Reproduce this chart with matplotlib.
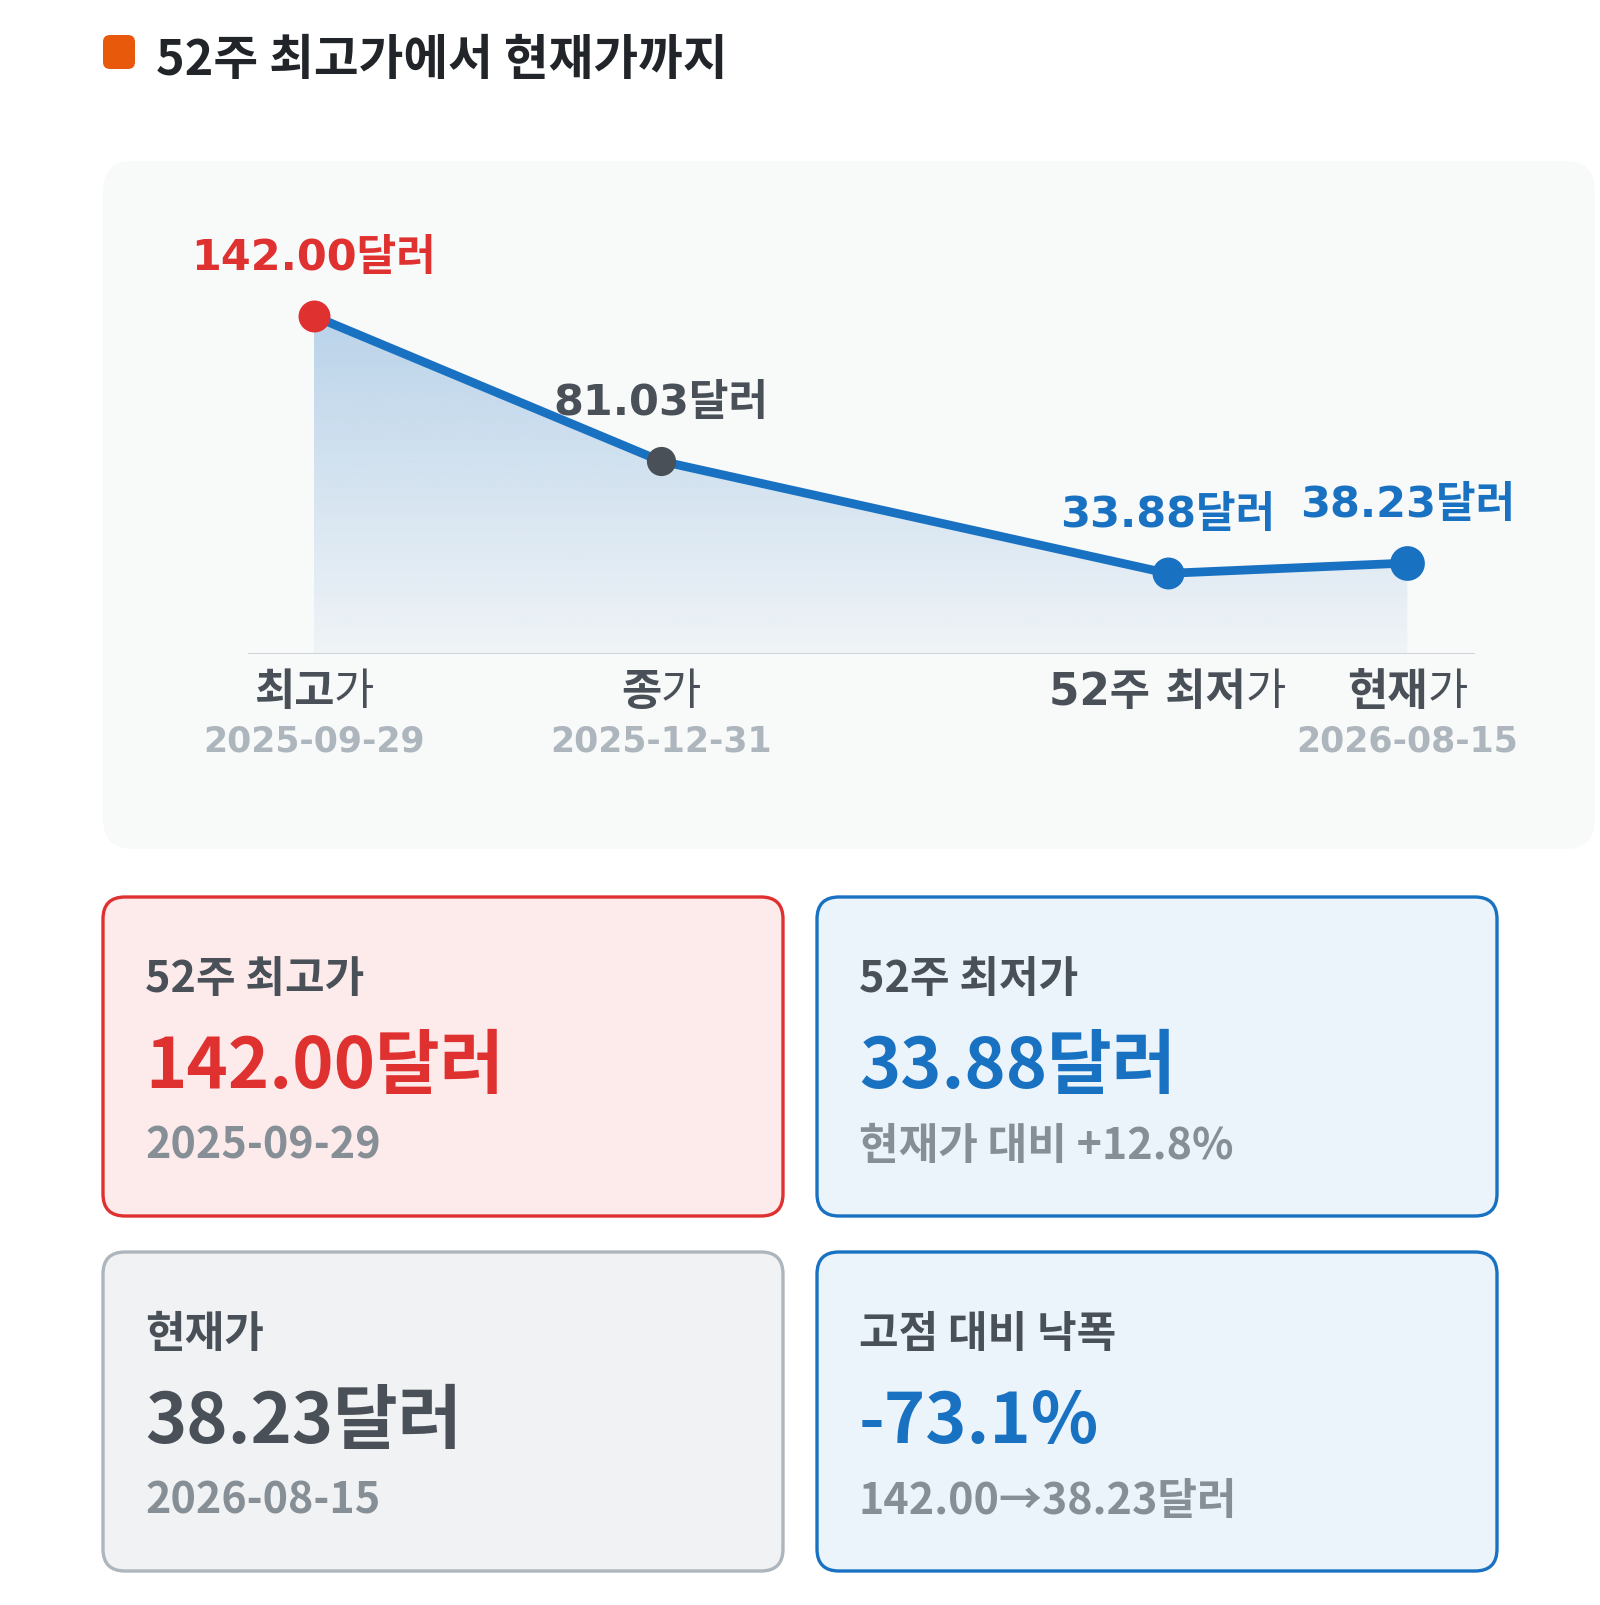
import matplotlib
matplotlib.use("Agg")
import matplotlib.pyplot as plt
import numpy as np
from matplotlib.patches import FancyBboxPatch

plt.rcParams["font.family"] = ["Noto Sans CJK KR", "DejaVu Sans"]

# --- data ---
point_names = ["최고가", "종가", "52주 최저가", "현재가"]
point_dates = ["2025-09-29", "2025-12-31", "", "2026-08-15"]
point_prices = [142.00, 81.03, 33.88, 38.23]
point_slots = [0.0, 1.0, 2.46, 3.15]

high_price, close_price, low_price, cur_price = point_prices
high_date, cur_date = point_dates[0], point_dates[3]

title = "52주 최고가에서 현재가까지"
card_titles = ["52주 최고가", "52주 최저가", "현재가", "고점 대비 낙폭"]
card_values = [
    f"{high_price:.2f}달러",
    f"{low_price:.2f}달러",
    f"{cur_price:.2f}달러",
    f"{(cur_price / high_price - 1) * 100:.1f}%",
]
card_subs = [
    high_date,
    f"현재가 대비 {(cur_price / low_price - 1) * 100:+.1f}%",
    cur_date,
    f"{high_price:.2f}→{cur_price:.2f}달러",
]

# --- styles ---
RED = "#e03131"
BLUE = "#1971c2"
DARK = "#495057"
MUTED = "#868e96"
LIGHT = "#adb5bd"
point_colors = [RED, DARK, BLUE, BLUE]
point_sizes = [23, 21, 23, 25]
card_styles = [
    (RED, "#fdebec", RED),
    (BLUE, "#ebf3fb", BLUE),
    (LIGHT, "#f0f2f4", DARK),
    (BLUE, "#ebf3fb", BLUE),
]
LATIN = ["DejaVu Sans", "Noto Sans CJK KR"]

W, H = 1600, 1606
fig = plt.figure(figsize=(W / 100, H / 100), dpi=100)
fig.patch.set_facecolor("white")

# background canvas in pixel coordinates
bg = fig.add_axes([0, 0, 1, 1])
bg.set_xlim(0, W)
bg.set_ylim(H, 0)
bg.axis("off")

# title
bg.add_patch(FancyBboxPatch((103, 36), 32, 34, boxstyle="round,pad=0,rounding_size=7",
                            fc="#e8590c", ec="none"))
bg.text(156, 75, title, fontsize=35, fontweight="black", color="#212529", va="baseline")

# chart panel
bg.add_patch(FancyBboxPatch((103, 162), 1492, 688, boxstyle="round,pad=0,rounding_size=30",
                            fc="#f8f9f9", ec="none"))

# chart axes
ax_left, ax_right, ax_top, ax_bottom = 248, 1475, 160, 655
ax = fig.add_axes([ax_left / W, 1 - ax_bottom / H, (ax_right - ax_left) / W,
                   (ax_bottom - ax_top) / H])
ax.patch.set_alpha(0)
ax.set_xlim(point_slots[0] - 0.19, point_slots[-1] + 0.195)
ax.set_ylim(0, 208)
ax.axis("off")

x = np.array(point_slots)
y = np.array(point_prices)

# gradient fill under the line
poly = ax.fill_between(x, y, 0, color="none", lw=0)
grad = np.zeros((256, 1, 4))
grad[:, 0, :3] = matplotlib.colors.to_rgb(BLUE)
grad[:, 0, 3] = np.linspace(0.04, 0.28, 256)
im = ax.imshow(grad, extent=[x[0], x[-1], 0, y.max()], origin="lower",
               aspect="auto", zorder=1, interpolation="bicubic")
im.set_clip_path(poly.get_paths()[0], transform=ax.transData)

ax.axhline(0, color="#ced4da", lw=2.2, zorder=2)
ax.plot(x, y, color=BLUE, lw=6.3, zorder=3, solid_capstyle="round")
for xi, yi, c, s in zip(x, y, point_colors, point_sizes):
    ax.plot(xi, yi, "o", color=c, ms=s, mec="none", zorder=4, clip_on=False)
    ax.annotate(f"{yi:.2f}달러", (xi, yi), xytext=(0, 34), textcoords="offset points",
                ha="center", va="baseline", fontsize=31, fontweight="bold",
                color=c, family=LATIN, zorder=5)

# category labels: bold stem + regular last syllable, and dates
renderer = fig.canvas.get_renderer()
for xi, name, date in zip(x, point_names, point_dates):
    xp = ax.transData.transform((xi, 0))[0]
    t1 = bg.text(0, 705, name[:-1], fontsize=31.5, fontweight="bold", color=DARK,
                 family=LATIN, va="baseline")
    t2 = bg.text(0, 705, name[-1], fontsize=31.5, fontweight="normal", color=DARK,
                 family=["Noto Sans CJK KR"], va="baseline")
    w1 = t1.get_window_extent(renderer).width
    w2 = t2.get_window_extent(renderer).width
    left = xp - (w1 + w2) / 2
    t1.set_x(left)
    t2.set_x(left + w1)
    if date:
        bg.text(xp, 752, date, fontsize=25, fontweight="bold", color=LIGHT,
                family=LATIN, ha="center", va="baseline")

# summary cards
col_x = [103, 817]
row_y = [898, 1253]
card_w, card_h = 680, 319
for i in range(4):
    cx = col_x[i % 2]
    cy = row_y[i // 2]
    edge, face, vcol = card_styles[i]
    bg.add_patch(FancyBboxPatch((cx, cy), card_w, card_h,
                                boxstyle="round,pad=0,rounding_size=22",
                                fc=face, ec=edge, lw=2.4))
    tx = cx + 42
    bg.text(tx, cy + 94, card_titles[i], fontsize=31, fontweight="bold", color=DARK,
            va="baseline")
    bg.text(tx, cy + 190, card_values[i], fontsize=50.5, fontweight="bold", color=vcol,
            va="baseline")
    bg.text(tx, cy + 261, card_subs[i], fontsize=31, fontweight="bold", color=MUTED,
            va="baseline")

fig.savefig("out.png", dpi=100, facecolor="white")
